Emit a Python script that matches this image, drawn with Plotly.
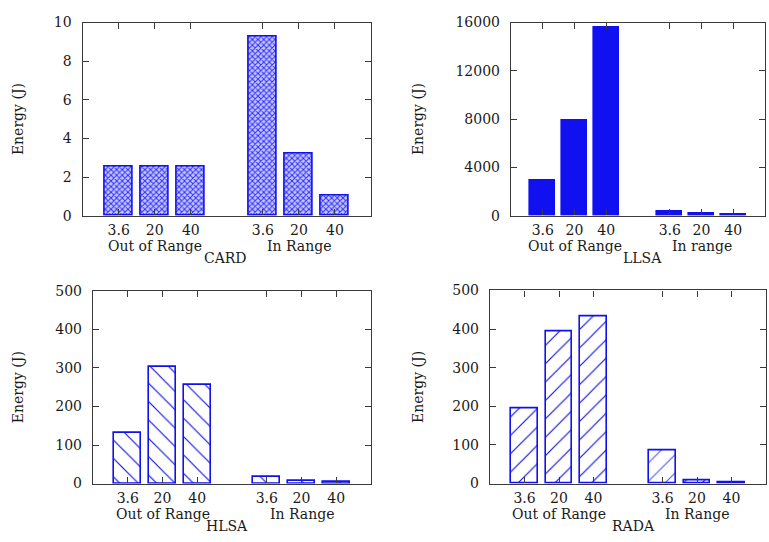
import plotly.graph_objects as go

# ---- data ----
positions = [1, 2, 3, 5, 6, 7]
tick_labels = ["3.6", "20", "40", "3.6", "20", "40"]
group_names = ["Out of Range", "In Range"]
group_names_llsa = ["Out of Range", "In range"]
group_members = [[1, 2, 3], [5, 6, 7]]

card = [2.55, 2.55, 2.55, 9.25, 3.2, 1.05]
llsa = [2950, 7900, 15550, 380, 150, 120]
hlsa = [132, 302, 256, 17, 8, 5]
rada = [195, 393, 432, 87, 9, 4]

W, H = 769, 542
def px(x):
    return x / W
def py(y):
    return 1 - y / H

FONT = "DejaVu Serif, serif"
FS = 14
BLUE = "#1010f0"
AX = "#3a3a3a"
TXT = "#1a1a1a"
LINE = "#1010e0"

panels = [
    dict(name="CARD", vals=card, groups=group_names, yrange=[0, 10], dtick=2,
         xdom=[82.7, 371], ydom=[15, 214], ytitle_x=18, title_x=225,
         pattern=dict(shape="x", fgcolor="#3030ff", bgcolor="#c8c8ff", size=4, solidity=0.45,
                      fgopacity=1)),
    dict(name="LLSA", vals=llsa, groups=group_names_llsa, yrange=[0, 16000], dtick=4000,
         xdom=[511, 765], ydom=[15, 214], ytitle_x=418, title_x=642,
         pattern=None),
    dict(name="HLSA", vals=hlsa, groups=group_names, yrange=[0, 500], dtick=100,
         xdom=[93, 371], ydom=[291.5, 490], ytitle_x=18, title_x=227,
         pattern=dict(shape="\\", fgcolor=LINE, bgcolor="white", size=13, solidity=0.09,
                      fgopacity=1)),
    dict(name="RADA", vals=rada, groups=group_names, yrange=[0, 500], dtick=100,
         xdom=[490, 766], ydom=[291, 490], ytitle_x=418, title_x=633,
         pattern=dict(shape="/", fgcolor=[LINE, LINE, LINE, "#5a5af0", LINE, LINE],
                      bgcolor="white", size=13, solidity=0.09, fgopacity=1)),
]

fig = go.Figure()
annotations = []
for i, p in enumerate(panels):
    n = i + 1
    xa = "x" if n == 1 else f"x{n}"
    ya = "y" if n == 1 else f"y{n}"
    marker = dict(line=dict(color=BLUE, width=1.6))
    if p["pattern"] is None:
        marker["color"] = BLUE
    else:
        marker["color"] = "white"
        marker["pattern"] = p["pattern"]
    fig.add_trace(go.Bar(x=positions, y=p["vals"], width=0.78, marker=marker,
                         xaxis=xa, yaxis=ya, showlegend=False))
    xk = "xaxis" if n == 1 else f"xaxis{n}"
    yk = "yaxis" if n == 1 else f"yaxis{n}"
    common = dict(showline=True, linecolor=AX, linewidth=1.4, mirror="ticks",
                  ticks="inside", ticklen=6, tickcolor=AX, tickwidth=1.2,
                  showgrid=False, zeroline=False,
                  tickfont=dict(family=FONT, size=FS, color=TXT))
    fig.layout[xk] = dict(common, domain=[px(p["xdom"][0]), px(p["xdom"][1])],
                          range=[0, 8], tickvals=positions, ticktext=tick_labels,
                          anchor=ya, ticklabelstandoff=1)
    fig.layout[yk] = dict(common, domain=[py(p["ydom"][1]), py(p["ydom"][0])],
                          range=p["yrange"], dtick=p["dtick"], tickformat="d",
                          anchor=xa, ticklabelstandoff=7)
    base = p["ydom"][1]
    # group labels
    for g, members in zip(p["groups"], group_members):
        annotations.append(dict(x=sum(members) / len(members), xref=xa,
                                y=py(base + 31), yref="paper", text=g, showarrow=False,
                                xanchor="center", yanchor="middle",
                                font=dict(family=FONT, size=FS, color=TXT)))
    # x title
    annotations.append(dict(x=px(p["title_x"]), xref="paper", y=py(base + 44), yref="paper",
                            text=p["name"], showarrow=False, xanchor="center", yanchor="middle",
                            font=dict(family=FONT, size=FS, color=TXT)))
    # y title
    annotations.append(dict(x=px(p["ytitle_x"]), xref="paper",
                            y=py((p["ydom"][0] + p["ydom"][1]) / 2), yref="paper",
                            text="Energy (J)", textangle=-90, showarrow=False,
                            xanchor="center", yanchor="middle",
                            font=dict(family=FONT, size=FS, color=TXT)))

fig.update_layout(width=W, height=H, margin=dict(l=0, r=0, t=0, b=0),
                  paper_bgcolor="white", plot_bgcolor="white",
                  annotations=annotations, bargap=0)
fig.write_html("out.html")
